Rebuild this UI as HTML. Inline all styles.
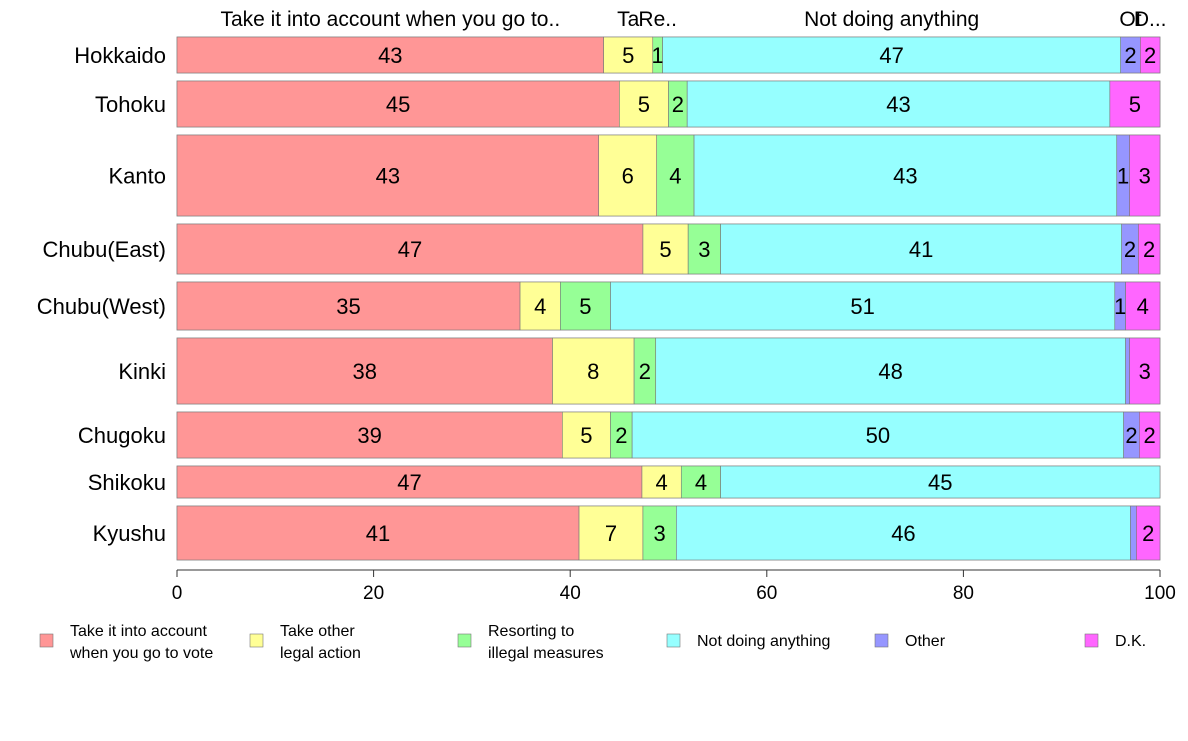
<!DOCTYPE html>
<html><head><meta charset="utf-8"><style>
body{margin:0;background:#fff;font-family:"Liberation Sans",sans-serif}
</style></head><body>
<svg id="chart" width="1188" height="736" xmlns="http://www.w3.org/2000/svg" font-family="Liberation Sans, sans-serif"></svg>
<script>
const regions=["Hokkaido","Tohoku","Kanto","Chubu(East)","Chubu(West)","Kinki","Chugoku","Shikoku","Kyushu"];
const sampleSizes=[36,46,81,50,48,66,46,32,54];
const seriesNames=["Take it into account when you go to vote","Take other legal action","Resorting to illegal measures","Not doing anything","Other","D.K."];
const takeIntoAccount=[43.4,45.0,42.9,47.4,34.9,38.2,39.2,47.3,40.9];
const otherLegal=[5.0,5.0,5.9,4.6,4.1,8.3,4.9,4.0,6.5];
const illegal=[1.0,1.9,3.8,3.3,5.1,2.2,2.2,4.0,3.4];
const notDoing=[46.6,43.0,43.0,40.8,51.3,47.8,50.0,44.7,46.2];
const other=[2.0,0,1.3,1.7,1.1,0.4,1.6,0,0.6];
const dk=[2.0,5.1,3.1,2.2,3.5,3.1,2.1,0,2.4];
const xTicks=[0,20,40,60,80,100];
const topLabels=["Take it into account when you go to..","Ta","Re..","Not doing anything","Ot","D..."];
const series=[takeIntoAccount,otherLegal,illegal,notDoing,other,dk];
const colors=["#ff9696","#ffff96","#96ff96","#96ffff","#9696ff","#ff66ff"];
const NS="http://www.w3.org/2000/svg";
const svg=document.getElementById('chart');
const X0=177,X1=1160,Y0=37,GAP=8;
const x=v=>X0+(X1-X0)*v/100;
function mk(t,a,txt){const e=document.createElementNS(NS,t);for(const k in a)e.setAttribute(k,a[k]);if(txt!=null)e.textContent=txt;svg.appendChild(e);return e;}
let y=Y0;
regions.forEach((r,i)=>{
  const h=sampleSizes[i];
  const lab=mk('text',{x:166,y:y+h/2+8,'text-anchor':'end','font-size':22},r);
  
  
  const bg=mk('rect',{x:X0,y:y,width:X1-X0,height:h,fill:'none',stroke:'#bbb'});
  
  
  let c=0;
  series.forEach((s,j)=>{
    const v=s[i];
    if(v<=0){return;}
    const seg=mk('rect',{x:x(c),y:y,width:x(c+v)-x(c),height:h,fill:colors[j],stroke:'#777','stroke-width':0.6});
    
    
    if(v>=0.95){
      const t=mk('text',{x:(x(c)+x(c+v))/2,y:y+h/2+8,'text-anchor':'middle','font-size':22},Math.round(v));
      
      
    }
    if(i===0){
      const tl=mk('text',{x:(x(c)+x(c+v))/2,y:26,'text-anchor':'middle','font-size':21},topLabels[j]);
      
      
    }
    c+=v;
  });
  y+=h+GAP;
});
const ax=mk('line',{x1:X0,x2:X1,y1:570,y2:570,stroke:'#333'});


xTicks.forEach(t=>{
  const tk=mk('line',{x1:x(t),x2:x(t),y1:570,y2:577,stroke:'#333'});
  
  
  const tl=mk('text',{x:x(t),y:599,'text-anchor':'middle','font-size':19},t);
  
  
});
const legX=[40,250,458,667,875,1085];
const legText=[["Take it into account","when you go to vote"],["Take other","legal action"],["Resorting to","illegal measures"],["Not doing anything"],["Other"],["D.K."]];
legText.forEach((lines,j)=>{
  const b=mk('rect',{x:legX[j],y:634,width:13,height:13,fill:colors[j],stroke:'#777','stroke-width':0.6});
  
  
  lines.forEach((ln,k)=>{
    const ty=lines.length===1?646:636+k*22;
    const t=mk('text',{x:legX[j]+30,y:ty,'font-size':16},ln);
    
    
  });
});
</script>
</body></html>
